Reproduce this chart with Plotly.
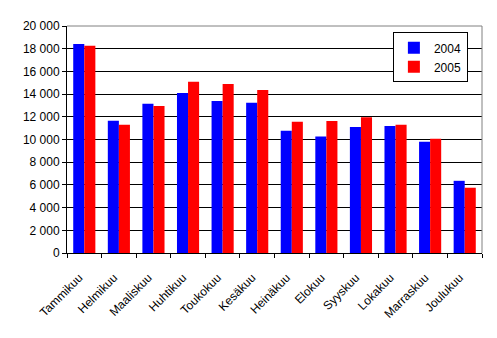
import plotly.graph_objects as go

months = ["Tammikuu", "Helmikuu", "Maaliskuu", "Huhtikuu", "Toukokuu", "Kesäkuu",
          "Heinäkuu", "Elokuu", "Syyskuu", "Lokakuu", "Marraskuu", "Joulukuu"]
v2004 = [18420, 11650, 13140, 14100, 13400, 13230, 10760, 10260, 11110, 11200, 9800, 6360]
v2005 = [18250, 11300, 12960, 15080, 14900, 14370, 11560, 11640, 11970, 11300, 10060, 5750]
ytickvals = [0, 2000, 4000, 6000, 8000, 10000, 12000, 14000, 16000, 18000, 20000]

font = "Arial, Liberation Sans, sans-serif"

fig = go.Figure()
fig.add_trace(go.Bar(x=months, y=v2004, name="2004", marker=dict(color="#0000FF", line=dict(width=0))))
fig.add_trace(go.Bar(x=months, y=v2005, name="2005", marker=dict(color="#FF0000", line=dict(width=0))))

fig.update_layout(
    width=497, height=338,
    margin=dict(l=67, r=15, t=26, b=85),
    paper_bgcolor="white", plot_bgcolor="white",
    barmode="group", bargap=0.36, bargroupgap=0,
    separators=", ",
    font=dict(family=font, size=12, color="black"),
    showlegend=True,
    legend=dict(x=0.966, xanchor="right", y=0.972, yanchor="top",
                bordercolor="black", borderwidth=1, bgcolor="white",
                font=dict(family=font, size=12, color="black"),
                itemwidth=30, tracegroupgap=0),
    xaxis=dict(showline=True, linecolor="black", linewidth=1,
               ticks="outside", ticklen=4, tickcolor="black", tickson="boundaries",
               tickangle=-45, showgrid=False, ticklabelstandoff=12, ticklabelshift=-5,
               tickfont=dict(family=font, size=12, color="black")),
    yaxis=dict(range=[0, 20000], tickvals=ytickvals, tickformat=",d",
               showline=True, linecolor="black", linewidth=1,
               ticks="outside", ticklen=4, tickcolor="black",
               showgrid=True, gridcolor="black", gridwidth=1, zeroline=False,
               tickfont=dict(family=font, size=12, color="black")),
    shapes=[dict(type="path", xref="paper", yref="paper",
                 path="M 0 1 L 1 1 L 1 0", line=dict(color="#808080", width=1))],
)

fig.write_html("out.html")
